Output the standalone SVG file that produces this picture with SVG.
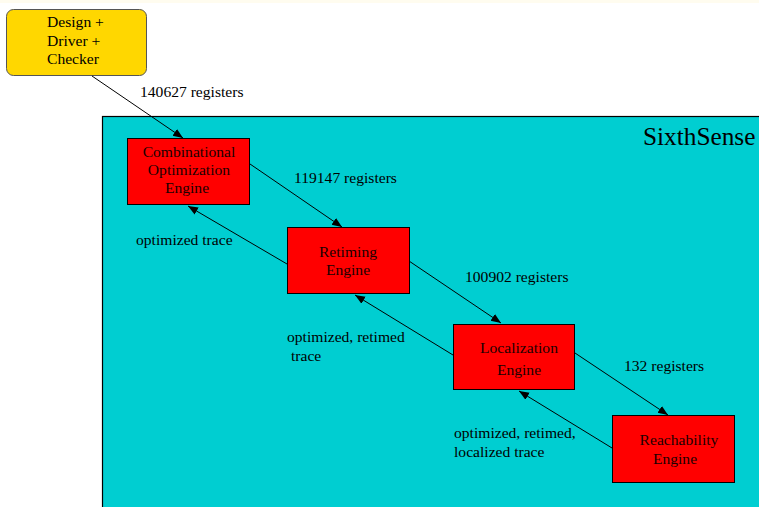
<svg xmlns="http://www.w3.org/2000/svg" width="759" height="507" viewBox="0 0 759 507">
  <defs>
    <marker id="arrow" viewBox="0 0 10 10" refX="10" refY="5" markerWidth="10" markerHeight="10" markerUnits="userSpaceOnUse" orient="auto">
      <path d="M0,1 L10,5 L0,9 z" fill="#000"/>
    </marker>
    <style>
      text { font-family: "Liberation Serif", "Times New Roman", serif; font-size: 15.6px; fill: #000; }
      .node { fill: #ff0000; stroke: #000; stroke-width: 1; }
      .node-text { fill: #200000; }
      .mid { text-anchor: middle; }
      .edge { stroke: #000; stroke-width: 1; fill: none; marker-end: url(#arrow); }
    </style>
  </defs>

  <!-- page background -->
  <rect x="0" y="0" width="759" height="507" fill="#ffffff"/>
  <rect x="0" y="0" width="759" height="3" fill="#fffcef"/>

  <!-- SixthSense cluster -->
  <g id="sixthsense">
    <rect x="102.5" y="116.5" width="670" height="400" fill="#00ced1" stroke="#000" stroke-width="1.2"/>
    <text x="643" y="145" style="font-size:25.3px">SixthSense</text>
  </g>

  <!-- input -->
  <g id="design">
    <rect x="6.5" y="9.5" width="140" height="66" rx="7" ry="7" fill="#ffd700" stroke="#555" stroke-width="1"/>
    <text x="47" y="27">Design +</text>
    <text x="47" y="46">Driver +</text>
    <text x="47" y="64">Checker</text>
  </g>

  <g id="combinational">
    <rect class="node" x="127.5" y="138.5" width="122" height="66"/>
    <text class="mid node-text" x="189" y="157">Combinational</text>
    <text class="mid node-text" x="189" y="175">Optimization</text>
    <text class="mid node-text" x="187" y="193">Engine</text>
  </g>

  <g id="retiming">
    <rect class="node" x="287.5" y="227.5" width="122" height="66"/>
    <text class="mid node-text" x="348" y="257">Retiming</text>
    <text class="mid node-text" x="348" y="275">Engine</text>
  </g>

  <g id="localization">
    <rect class="node" x="453.5" y="324.5" width="121" height="65"/>
    <text class="mid node-text" x="519" y="353">Localization</text>
    <text class="mid node-text" x="519" y="375">Engine</text>
  </g>

  <g id="reachability">
    <rect class="node" x="612.5" y="415.5" width="122" height="67"/>
    <text class="mid node-text" x="679" y="445">Reachability</text>
    <text class="mid node-text" x="675" y="464">Engine</text>
  </g>

  <!-- connectors -->
  <g id="connectors">
    <line class="edge" x1="92" y1="76" x2="183" y2="138"/>
    <line class="edge" x1="250" y1="164" x2="342" y2="227"/>
    <line class="edge" x1="409" y1="261" x2="501" y2="323"/>
    <line class="edge" x1="575" y1="353" x2="668" y2="415"/>
    <line class="edge" x1="287" y1="264" x2="188" y2="206"/>
    <line class="edge" x1="453" y1="355" x2="355" y2="295"/>
    <line class="edge" x1="612" y1="448" x2="519" y2="391"/>
  </g>

  <!-- connector labels -->
  <g id="labels">
    <text x="140" y="97">140627 registers</text>
    <text x="294" y="183">119147 registers</text>
    <text x="136" y="245">optimized trace</text>
    <text x="465" y="282">100902 registers</text>
    <text x="287" y="342">optimized, retimed</text>
    <text x="291" y="361">trace</text>
    <text x="624" y="371">132 registers</text>
    <text x="454" y="438">optimized, retimed,</text>
    <text x="454" y="457">localized trace</text>
  </g>
</svg>
